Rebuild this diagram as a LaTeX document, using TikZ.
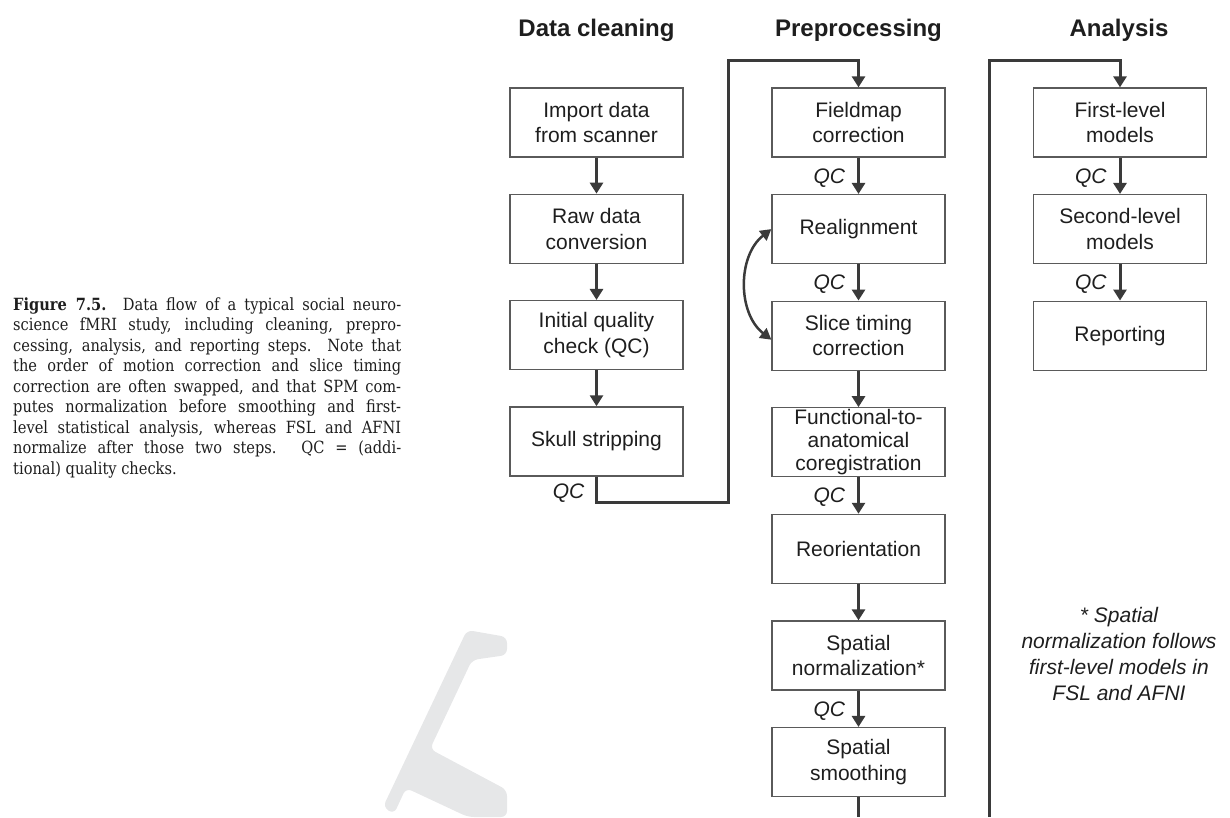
\documentclass[tikz,border=0pt]{standalone}
\usepackage{fontspec}
\setmainfont{DejaVu Serif}[FakeStretch=0.87]
\setsansfont{Liberation Sans}
\usetikzlibrary{arrows.meta}
\definecolor{ln}{HTML}{3A3A3A}
\definecolor{bx}{HTML}{5A5A5A}
\definecolor{tx}{HTML}{1E1E1E}
\definecolor{wmk}{HTML}{E6E7E8}
\begin{document}
\begin{tikzpicture}[x=1pt,y=-1pt,
 stepbox/.style={draw=bx, line width=1.3pt, minimum width=173pt, minimum height=69pt, inner sep=0pt, align=center, text=tx, font=\sffamily\fontsize{21}{25.5}\selectfont},
 head/.style={font=\sffamily\bfseries\fontsize{24}{28}\selectfont, text=tx, inner sep=0pt, anchor=base},
 conn/.style={draw=ln, line width=3pt, -{Triangle[width=13pt,length=11pt]}},
 plainline/.style={draw=ln, line width=3pt},
 qc/.style={anchor=east, xshift=-12pt, yshift=-2pt, inner sep=0pt, text=tx, font=\sffamily\itshape\fontsize{21}{25}\selectfont},
 note/.style={font=\sffamily\itshape\fontsize{21}{26}\selectfont, align=center, text=tx, inner sep=0pt},
 capt/.style={anchor=north west, inner sep=0pt, align=left, text=tx, font=\fontsize{16.8}{20.5}\selectfont},
]
\useasboundingbox (0,0) rectangle (1230,817);

% watermark
\fill[wmk, rounded corners=6pt] (467,630) -- (507,637) -- (507,655) -- (472,660) -- (430,749) -- (507,790) -- (507,817) -- (468,817) -- (406,788) -- (394,814) -- (383,807) -- cycle;

% caption
\node[capt] (cap) at (13,297.5) {%
\makebox[388pt][s]{\textbf{Figure 7.5.} Data flow of a typical social neuro-}\\
\makebox[388pt][s]{science fMRI study, including cleaning, prepro-}\\
\makebox[388pt][s]{cessing, analysis, and reporting steps. Note that}\\
\makebox[388pt][s]{the order of motion correction and slice timing}\\
\makebox[388pt][s]{correction are often swapped, and that SPM com-}\\
\makebox[388pt][s]{putes normalization before smoothing and first-}\\
\makebox[388pt][s]{level statistical analysis, whereas FSL and AFNI}\\
\makebox[388pt][s]{normalize after those two steps. QC = (addi-}\\
tional) quality checks.};

% headers
\node[head] (h1) at (596.5,36) {Data cleaning};
\node[head] (h2) at (858.5,36) {Preprocessing};
\node[head] (h3) at (1119,36) {Analysis};

% column 1
\node[stepbox] (imp) at (596.5,122.5) {Import data\\from scanner};
\node[stepbox] (raw) at (596.5,228.8) {Raw data\\conversion};
\node[stepbox] (iqc) at (596.5,335.1) {Initial quality\\check (QC)};
\node[stepbox] (skull) at (596.5,441.4) {Skull stripping};

% column 2
\node[stepbox] (field) at (858.5,122.5) {Fieldmap\\correction};
\node[stepbox] (realign) at (858.5,229.1) {Realignment};
\node[stepbox] (slice) at (858.5,335.7) {Slice timing\\correction};
\node[stepbox, font=\sffamily\fontsize{21}{23}\selectfont] (func) at (858.5,442.3) {Functional-to-\\anatomical\\coregistration};
\node[stepbox] (reor) at (858.5,548.9) {Reorientation};
\node[stepbox] (norm) at (858.5,655.5) {Spatial\\normalization*};
\node[stepbox] (smooth) at (858.5,762.1) {Spatial\\smoothing};

% column 3
\node[stepbox] (first) at (1120,122.5) {First-level\\models};
\node[stepbox] (second) at (1120,229.1) {Second-level\\models};
\node[stepbox] (report) at (1120,335.7) {Reporting};

% footnote
\node[note] (fn) at (1119,654) {* Spatial\\normalization follows\\first-level models in\\FSL and AFNI};

% column 1 arrows
\draw[conn] (imp.south) -- (raw.north);
\draw[conn] (raw.south) -- (iqc.north);
\draw[conn] (iqc.south) -- (skull.north);

% column 2 arrows
\draw[conn] (field.south) -- node[qc] (q1) {QC} (realign.north);
\draw[conn] (realign.south) -- node[qc] (q2) {QC} (slice.north);
\draw[conn] (slice.south) -- (func.north);
\draw[conn] (func.south) -- node[qc] (q3) {QC} (reor.north);
\draw[conn] (reor.south) -- (norm.north);
\draw[conn] (norm.south) -- node[qc] (q4) {QC} (smooth.north);

% column 3 arrows
\draw[conn] (first.south) -- node[qc] (q5) {QC} (second.north);
\draw[conn] (second.south) -- node[qc] (q6) {QC} (report.north);

% link data cleaning -> preprocessing
\coordinate (c1) at (728,502);
\coordinate (c2) at (728,60);
\draw[conn] (skull.south) |- (c1) -- (c2) -| (field.north);
\node[qc] (q0) at (596.5,491) {QC};

% link preprocessing -> analysis (continues below the picture)
\coordinate (b1) at (858.5,817);
\draw[plainline] (smooth.south) -- (b1);
\coordinate (b2) at (989,817);
\coordinate (c3) at (989,60);
\draw[conn] (b2) -- (c3) -| (first.north);

% realignment <-> slice timing
\draw[draw=ln, line width=2.5pt, {Triangle[width=12pt,length=11pt]}-{Triangle[width=12pt,length=11pt]}] (realign.west) to[bend right=52] ([yshift=-4pt]slice.west);
\end{tikzpicture}
\end{document}
